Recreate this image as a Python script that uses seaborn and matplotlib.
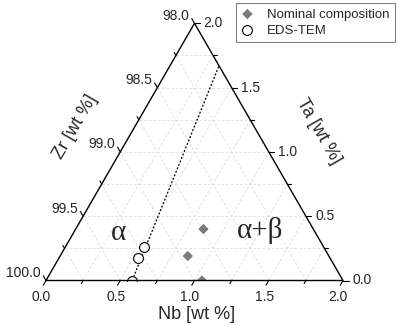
import numpy as np
import pandas as pd
import matplotlib
matplotlib.use("Agg")
import matplotlib.pyplot as plt
import seaborn as sns

# ---------------- data (wt %) ----------------
nominal_nb = [0.86, 0.86, 1.05]
nominal_ta = [0.40, 0.19, 0.00]
eds_nb = [0.533, 0.529, 0.577]
eds_ta = [0.258, 0.177, 0.00]
boundary_nb = [0.58, 0.33]
boundary_ta = [0.00, 1.67]

nb_ticks = [0.0, 0.5, 1.0, 1.5, 2.0]
ta_ticks = [0.0, 0.5, 1.0, 1.5, 2.0]
zr_ticks = [100.0, 99.5, 99.0, 98.5, 98.0]
nb_labels = ["0.0", "0.5", "1.0", "1.5", "2.0"]
ta_labels = ["0.0", "0.5", "1.0", "1.5", "2.0"]
zr_labels = ["100.0", "99.5", "99.0", "98.5", "98.0"]
minor_step = 0.25

phase_names = ["α", "α+β"]
phase_nb = [0.30, 1.245]
phase_ta = [0.37, 0.39]

series_names = ["Nominal composition", "EDS-TEM"]

# ---------------- style ----------------
sns.set_style("white")
plt.rcParams["font.family"] = ["Liberation Sans", "DejaVu Sans"]

SPAN = 2.0  # wt% range of each axis
R3 = np.sqrt(3) / 2


def to_xy(nb, ta):
    nb = np.asarray(nb, dtype=float) / SPAN
    ta = np.asarray(ta, dtype=float) / SPAN
    return nb + ta / 2, ta * R3


fig = plt.figure(figsize=(3.98, 3.26), dpi=100)
W, H = 398, 326
px_unit = 297.0
ax = fig.add_axes([46 / W, (H - 280.5) / H, px_unit / W, px_unit * R3 / H])
ax.set_xlim(0, 1)
ax.set_ylim(0, R3)
ax.axis("off")

# grid
grid_kw = dict(color="#dadada", lw=0.6, ls=(0, (3, 2.5)), zorder=1, clip_on=False)
vals = np.arange(minor_step, SPAN, minor_step)
for v in vals:
    x, y = to_xy([0, SPAN - v], [v, v])
    ax.plot(x, y, **grid_kw)
    x, y = to_xy([v, v], [0, SPAN - v])
    ax.plot(x, y, **grid_kw)
    x, y = to_xy([v, 0], [0, v])
    ax.plot(x, y, **grid_kw)

# triangle frame
x, y = to_xy([0, SPAN, 0, 0], [0, 0, SPAN, 0])
ax.plot(x, y, color="black", lw=1.0, zorder=5, clip_on=False, solid_joinstyle="miter")

# ticks
all_vals = np.arange(0, SPAN + 1e-9, minor_step)
d_bot = np.array([-0.5, -R3])
d_right = np.array([1.0, 0.0])
d_left = np.array([-0.5, R3])
for v in all_vals:
    major = abs((v / 0.5) - round(v / 0.5)) < 1e-6
    L = (5.5 if major else 3.5) / px_unit
    x0, y0 = to_xy(v, 0)
    ax.plot([x0, x0 + L * d_bot[0]], [y0, y0 + L * d_bot[1]], color="black", lw=0.8, clip_on=False, zorder=5)
    x0, y0 = to_xy(SPAN - v, v)
    ax.plot([x0, x0 + L * d_right[0]], [y0, y0 + L * d_right[1]], color="black", lw=0.8, clip_on=False, zorder=5)
    x0, y0 = to_xy(0, v)
    ax.plot([x0, x0 + L * d_left[0]], [y0, y0 + L * d_left[1]], color="black", lw=0.8, clip_on=False, zorder=5)

tick_fs = 10
for v, lab in zip(nb_ticks, nb_labels):
    x0, y0 = to_xy(v, 0)
    ax.annotate(lab, (x0, y0), xytext=(-3.3, -12.2), textcoords="offset points",
                ha="center", va="center", fontsize=tick_fs)
for v, lab in zip(ta_ticks, ta_labels):
    x0, y0 = to_xy(SPAN - v, v)
    ax.annotate(lab, (x0, y0), xytext=(6.6, 0), textcoords="offset points",
                ha="left", va="center", fontsize=tick_fs)
for z, lab in zip(zr_ticks, zr_labels):
    x0, y0 = to_xy(0, 100.0 - z)
    ax.annotate(lab, (x0, y0), xytext=(-3.8, 5.4), textcoords="offset points",
                ha="right", va="center", fontsize=tick_fs)

# axis titles
title_fs = 13
ax.text(0.507, -0.1128, "Nb [wt %]", ha="center", va="center", fontsize=title_fs)
ax.text(0.0976, 0.517, "Zr [wt %]", ha="center", va="center", fontsize=title_fs, rotation=60,
        rotation_mode="anchor")
ax.text(0.919, 0.503, "Ta [wt %]", ha="center", va="center", fontsize=title_fs, rotation=-60,
        rotation_mode="anchor")

# phase labels
for name, nb, ta in zip(phase_names, phase_nb, phase_ta):
    x0, y0 = to_xy(nb, ta)
    ax.text(x0, y0, name, ha="center", va="center", fontsize=21,
            family=["Liberation Serif", "DejaVu Serif"])

# boundary line
bx, by = to_xy(boundary_nb, boundary_ta)
sns.lineplot(x=bx, y=by, ax=ax, color="black", lw=0.9, linestyle=(0, (1.6, 1.4)),
             sort=False, zorder=3)

# points
nx, ny = to_xy(nominal_nb, nominal_ta)
ex, ey = to_xy(eds_nb, eds_ta)
df_nom = pd.DataFrame({"x": nx, "y": ny})
df_eds = pd.DataFrame({"x": ex, "y": ey})
sns.scatterplot(data=df_nom, x="x", y="y", ax=ax, marker="D", s=28, color="#7b7b7b",
                edgecolor="none", linewidth=0, zorder=4, label=series_names[0])
sns.scatterplot(data=df_eds, x="x", y="y", ax=ax, marker="o", s=50, facecolor="white",
                edgecolor="black", linewidth=0.8, zorder=4, label=series_names[1])

handles, labels = ax.get_legend_handles_labels()
if ax.get_legend() is not None:
    ax.get_legend().remove()
leg = fig.legend(handles, labels, loc="upper right", bbox_to_anchor=(395 / W, 1 - 3 / H),
                 bbox_transform=fig.transFigure, borderaxespad=0, fontsize=9.5,
                 frameon=True, fancybox=False, edgecolor="#808080", framealpha=1,
                 handlelength=1.0, handletextpad=1.0, borderpad=0.4, labelspacing=0.3)
leg.get_frame().set_linewidth(0.8)

fig.savefig("out.png", dpi=100)
